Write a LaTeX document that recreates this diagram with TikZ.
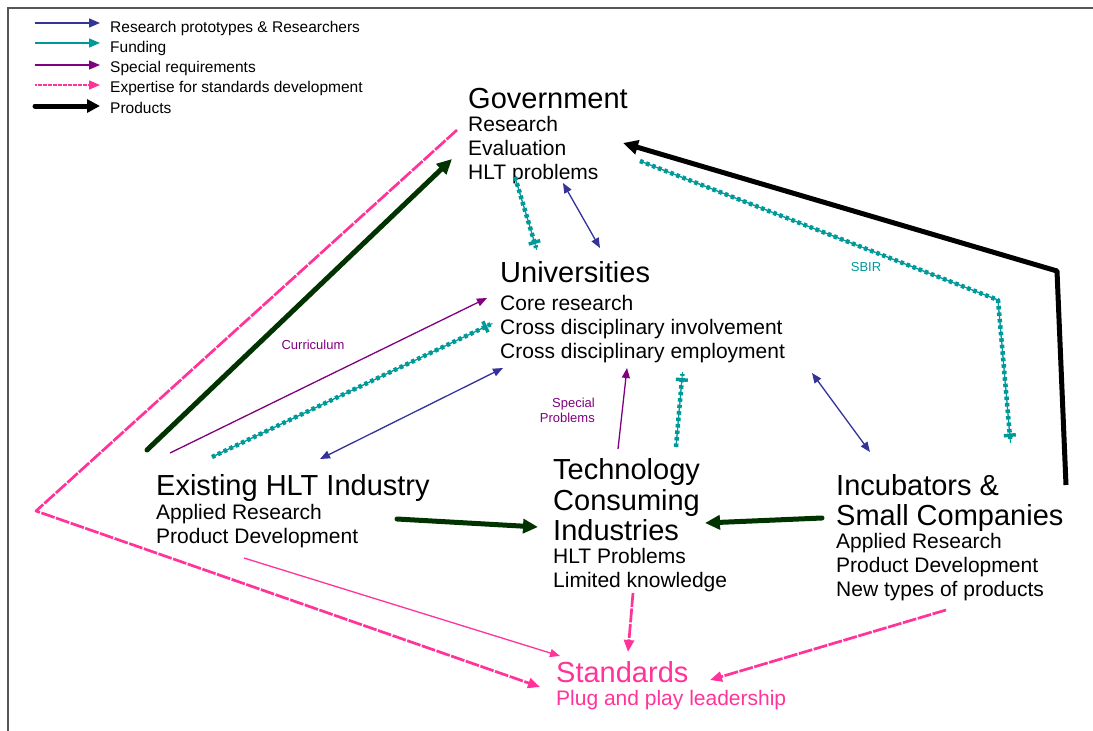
\documentclass[tikz,border=0pt]{standalone}
\usepackage{fontspec}
\setmainfont{Liberation Sans}
\usetikzlibrary{arrows.meta}
\definecolor{rblue}{HTML}{333399}
\definecolor{fteal}{HTML}{009999}
\definecolor{spurple}{HTML}{800080}
\definecolor{epink}{HTML}{FF3399}
\definecolor{pgreen}{HTML}{003300}
\definecolor{framegray}{HTML}{555555}
\begin{document}
\begin{tikzpicture}[x=1pt,y=-1pt,
  lbl/.style={anchor=base west,inner sep=0pt},
  big/.style={lbl,font=\fontsize{29}{30}\selectfont},
  sub/.style={lbl,font=\fontsize{21}{22}\selectfont},
  leg/.style={lbl,font=\fontsize{15.5}{16}\selectfont},
  small/.style={inner sep=0pt,font=\fontsize{13}{15}\selectfont},
  tipthin/.tip={Triangle[length=10pt,width=8pt]},
  tipbig/.tip={Triangle[length=15pt,width=14pt]},
  resarr/.style={draw=rblue,line width=1.3pt,tipthin-tipthin},
  fundarr/.style={draw=fteal,line width=1pt,line join=round,-{Bar[width=12pt,line width=3.5pt]},
     postaction={draw=fteal,line width=1pt,shorten >=-6pt,-},
     postaction={draw=fteal,line width=4.5pt,dash pattern=on 3.5pt off 3pt,shorten >=-4pt,-}},
  reqarr/.style={draw=spurple,line width=1.3pt,-tipthin},
  expthin/.style={draw=epink,line width=1.3pt,-tipthin},
  expdash/.style={draw=epink,line width=2.7pt,dash pattern=on 14pt off 1.5pt,line join=round,-{Triangle[length=12pt,width=10pt]}},
  prodarr/.style={draw=pgreen,line width=5pt,line cap=round,-tipbig},
  blkarr/.style={draw=black,line width=5pt,line join=round,-tipbig},
  legarr/.style={line width=1.5pt,-{Triangle[length=11pt,width=9pt]}}
]
\useasboundingbox (0,0) rectangle (1093,731);
\fill[white] (0,0) rectangle (1093,731);
\draw[framegray,line width=2pt] (8,731) -- (8,8) -- (1093,8);

% ---------- legend ----------
\coordinate (l1a) at (35,23);  \coordinate (l1b) at (100,23);
\coordinate (l2a) at (35,43);  \coordinate (l2b) at (100,43);
\coordinate (l3a) at (35,65);  \coordinate (l3b) at (100,65);
\coordinate (l4a) at (35,85);  \coordinate (l4b) at (100,85);
\coordinate (l5a) at (35,106); \coordinate (l5b) at (100,106);
\draw[legarr,rblue] (l1a) -- (l1b);
\draw[legarr,fteal] (l2a) -- (l2b);
\draw[legarr,spurple] (l3a) -- (l3b);
\draw[legarr,epink,dash pattern=on 2pt off 0.5pt] (l4a) -- (l4b);
\draw[black,line width=5pt,line cap=round,-{Triangle[length=13pt,width=13pt]}] (l5a) -- (l5b);
\node[leg] (lt1) at (110,32) {Research prototypes \& Researchers};
\node[leg] (lt2) at (110,52) {Funding};
\node[leg] (lt3) at (110,72) {Special requirements};
\node[leg] (lt4) at (110,92) {Expertise for standards development};
\node[leg] (lt5) at (110,113) {Products};

% ---------- text blocks ----------
\node[big] (gov) at (468,108) {Government};
\node[sub] (gov1) at (468,131) {Research};
\node[sub] (gov2) at (468,155) {Evaluation};
\node[sub] (gov3) at (468,179) {HLT problems};

\node[big] (uni) at (500,282) {Universities};
\node[sub] (uni1) at (500,310) {Core research};
\node[sub] (uni2) at (500,334) {Cross disciplinary involvement};
\node[sub] (uni3) at (500,358) {Cross disciplinary employment};

\node[big] (ex) at (156,495) {Existing HLT Industry};
\node[sub] (ex1) at (156,519) {Applied Research};
\node[sub] (ex2) at (156,543) {Product Development};

\node[big] (tci) at (553,479) {Technology};
\node[big] (tci2) at (553,510) {Consuming};
\node[big] (tci3) at (553,540) {Industries};
\node[sub] (tci4) at (553,563) {HLT Problems};
\node[sub] (tci5) at (553,587) {Limited knowledge};

\node[big] (inc) at (836,495) {Incubators \&};
\node[big] (inc2) at (836,525) {Small Companies};
\node[sub] (inc3) at (836,548) {Applied Research};
\node[sub] (inc4) at (836,572) {Product Development};
\node[sub] (inc5) at (836,596) {New types of products};

\node[big,text=epink] (std) at (556,682) {Standards};
\node[sub,text=epink] (std1) at (556,705) {Plug and play leadership};

% ---------- connector end points ----------
\coordinate (pinkA) at (457,130); \coordinate (pinkB) at (36,511); \coordinate (pinkC) at (540,687);
\coordinate (prodEx) at (147,450); \coordinate (prodGov) at (452,159);
\coordinate (curS) at (170,453); \coordinate (curE) at (487,298);
\coordinate (fundExS) at (212,457); \coordinate (fundExE) at (487,326);
\coordinate (resEx) at (320,459); \coordinate (resUni) at (503,368);
\coordinate (fundGovS) at (515,177); \coordinate (fundGovE) at (535,244);
\coordinate (resGov) at (563,183); \coordinate (resUni2) at (600,248);
\coordinate (blkS) at (1066,485); \coordinate (blkM) at (1057,271); \coordinate (blkE) at (623,143);
\coordinate (sbirS) at (640,161); \coordinate (sbirM) at (998,300); \coordinate (sbirE) at (1010,437);
\coordinate (spS) at (618,449); \coordinate (spE) at (627,368);
\coordinate (fundTcS) at (676,447); \coordinate (fundTcE) at (682,378);
\coordinate (resUni3) at (812,373); \coordinate (resInc) at (870,452);
\coordinate (prodEx2) at (397,519); \coordinate (prodTc) at (538,527);
\coordinate (prodInc) at (822,518); \coordinate (prodTc2) at (705,523);
\coordinate (expEx) at (244,558); \coordinate (expStd) at (560,656);
\coordinate (expTc) at (633,593); \coordinate (expStd2) at (628,652);
\coordinate (expInc) at (946,610); \coordinate (expStd3) at (710,680);

% ---------- connectors ----------
\draw[expdash] (pinkA) -- (pinkB) -- (pinkC);
\draw[prodarr] (prodEx) -- (prodGov);
\draw[reqarr] (curS) -- (curE);
\draw[fundarr] (fundExS) -- (fundExE);
\draw[resarr] (resEx) -- (resUni);
\node[small,text=spurple] (curlbl) at (313,345) {Curriculum};

\draw[fundarr] (fundGovS) -- (fundGovE);
\draw[resarr] (resGov) -- (resUni2);

\draw[blkarr] (blkS) -- (blkM) -- (blkE);
\draw[fundarr] (sbirS) -- (sbirM) -- (sbirE);
\node[small,text=fteal] (sbir) at (866,267) {SBIR};

\draw[reqarr] (spS) -- (spE);
\node[small,text=spurple,align=right,anchor=east] (splbl) at (595,410) {Special\\Problems};
\draw[fundarr] (fundTcS) -- (fundTcE);
\draw[resarr] (resUni3) -- (resInc);

\draw[prodarr] (prodEx2) -- (prodTc);
\draw[prodarr] (prodInc) -- (prodTc2);

\draw[expthin] (expEx) -- (expStd);
\draw[expdash] (expTc) -- (expStd2);
\draw[expdash] (expInc) -- (expStd3);
\end{tikzpicture}
\end{document}
